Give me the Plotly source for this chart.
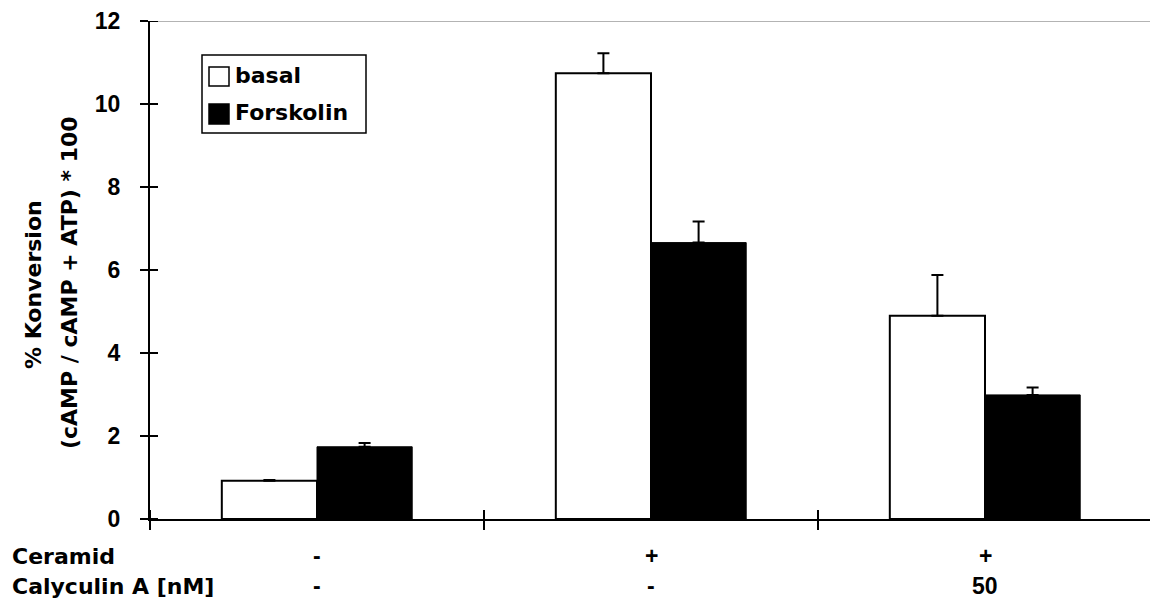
import plotly.graph_objects as go

# Data: three treatment groups, basal vs. forskolin-stimulated conversion
groups = [0, 1, 2]
basal = [0.92, 10.74, 4.90]
basal_err = [0.02, 0.48, 0.98]
forskolin = [1.74, 6.66, 2.99]
forskolin_err = [0.09, 0.51, 0.18]
ceramid_row = ["-", "+", "+"]
calyculin_row = ["-", "-", "50"]
y_ticks = [0, 2, 4, 6, 8, 10, 12]

W, H = 1150, 603
ML, MR, MT, MB = 150, 0, 21, 84
PW, PH = W - ML - MR, H - MT - MB
GROUP_PX = 334  # pixel width of one category

def px(xp):
    return (xp - ML) / PW

def py(yp):
    return (H - MB - yp) / PH

WORD_FONT = dict(family="DejaVu Sans", size=22, color="black", weight="bold")
NUM_FONT = dict(family="Liberation Sans", size=23, color="black", weight="bold")

fig = go.Figure()
fig.add_trace(go.Bar(
    x=groups, y=basal, name="basal",
    marker=dict(color="white", line=dict(color="black", width=2)),
    error_y=dict(type="data", array=basal_err, arrayminus=[0] * len(basal_err),
                 symmetric=False, color="black", thickness=2, width=6),
))
fig.add_trace(go.Bar(
    x=groups, y=forskolin, name="Forskolin",
    marker=dict(color="black", line=dict(color="black", width=1)),
    error_y=dict(type="data", array=forskolin_err, arrayminus=[0] * len(forskolin_err),
                 symmetric=False, color="black", thickness=2, width=6),
))

x_range = [-0.5, -0.5 + PW / GROUP_PX]
boundaries = [g - 0.5 for g in groups]

fig.update_layout(
    width=W, height=H,
    margin=dict(l=ML, r=MR, t=MT, b=MB),
    paper_bgcolor="white", plot_bgcolor="white",
    barmode="group", bargap=0.43, bargroupgap=0,
    showlegend=False,
    xaxis=dict(range=x_range, tickmode="array", tickvals=boundaries, showticklabels=False,
               ticks="outside", ticklen=9, tickwidth=2, tickcolor="black",
               showline=True, linecolor="black", linewidth=2,
               showgrid=False, zeroline=False, fixedrange=True),
    yaxis=dict(range=[0, 12], tickmode="array", tickvals=y_ticks,
               ticks="outside", ticklen=8, tickwidth=2, tickcolor="black",
               tickfont=NUM_FONT, ticklabelstandoff=15,
               showline=True, linecolor="black", linewidth=2,
               showgrid=False, zeroline=False, fixedrange=True),
)

# tick marks continue inside the plot area (crossing ticks)
for t in y_ticks:
    fig.add_shape(type="line", xref="paper", yref="y", x0=0, x1=8 / PW, y0=t, y1=t,
                  line=dict(color="black", width=2))
for b in boundaries:
    fig.add_shape(type="line", xref="x", yref="paper", x0=b, x1=b, y0=0, y1=9 / PH,
                  line=dict(color="black", width=2))

# top border line at the axis maximum
fig.add_shape(type="line", xref="paper", yref="y", x0=8 / PW, x1=1, y0=12, y1=12,
              line=dict(color="#9a9a9a", width=1.5))

# legend drawn as a framed box with square swatches
fig.add_shape(type="rect", xref="paper", yref="paper",
              x0=px(202), x1=px(366), y0=py(133), y1=py(55),
              line=dict(color="black", width=1.5), fillcolor="white")
fig.add_shape(type="rect", xref="paper", yref="paper",
              x0=px(209), x1=px(229), y0=py(86), y1=py(67),
              line=dict(color="black", width=1.5), fillcolor="white")
fig.add_shape(type="rect", xref="paper", yref="paper",
              x0=px(209), x1=px(229), y0=py(124), y1=py(104),
              line=dict(color="black", width=1.5), fillcolor="black")
for label, yc in [("basal", 75), ("Forskolin", 112)]:
    fig.add_annotation(text=label, xref="paper", yref="paper", x=px(233), y=py(yc),
                       xanchor="left", yanchor="middle", showarrow=False, font=WORD_FONT)

# y-axis title, two rotated lines
fig.add_annotation(text="% Konversion", xref="paper", yref="paper", x=px(34), y=py(285),
                   xanchor="center", yanchor="middle", textangle=-90, showarrow=False,
                   font=WORD_FONT)
fig.add_annotation(text="(cAMP / cAMP + ATP) * 100", xref="paper", yref="paper",
                   x=px(69), y=py(283), xanchor="center", yanchor="middle", textangle=-90,
                   showarrow=False, font=WORD_FONT)

# treatment table under the x-axis
row_y = [py(556), py(586)]
for text, yy in zip(["Ceramid", "Calyculin A [nM]"], row_y):
    fig.add_annotation(text=text, xref="paper", yref="paper", x=px(10), y=yy,
                       xanchor="left", yanchor="middle", showarrow=False, font=WORD_FONT)
for row, yy in zip([ceramid_row, calyculin_row], row_y):
    for g, t in zip(groups, row):
        fig.add_annotation(text=t, xref="x", yref="paper", x=g, y=yy,
                           xanchor="center", yanchor="middle", showarrow=False,
                           font=NUM_FONT)

fig.write_html("out.html")
